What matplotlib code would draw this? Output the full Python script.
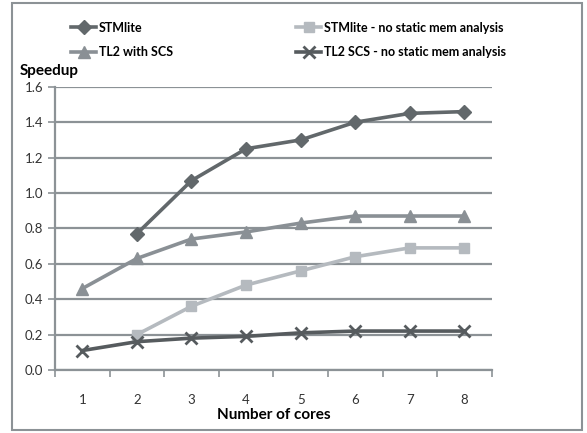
import matplotlib.pyplot as plt
from matplotlib.patches import Rectangle

cores = [1, 2, 3, 4, 5, 6, 7, 8]

stmlite_cores = [2, 3, 4, 5, 6, 7, 8]
stmlite = [0.77, 1.07, 1.25, 1.30, 1.40, 1.45, 1.46]

stmlite_nostatic_cores = [2, 3, 4, 5, 6, 7, 8]
stmlite_nostatic = [0.20, 0.36, 0.48, 0.56, 0.64, 0.69, 0.69]

tl2_scs = [0.46, 0.63, 0.74, 0.78, 0.83, 0.87, 0.87, 0.87]
tl2_nostatic = [0.11, 0.16, 0.18, 0.19, 0.21, 0.22, 0.22, 0.22]

plt.rcParams['font.family'] = ['Lato', 'DejaVu Sans']

fig = plt.figure(figsize=(5.87, 4.33), dpi=100)
ax = fig.add_axes([0.0937, 0.1455, 0.744, 0.654])

grid_c = '#8c9296'
p1, = ax.plot(stmlite_cores, stmlite, color='#62686b', lw=2.6, marker='D', ms=7,
              label='STMlite')
p2, = ax.plot(stmlite_nostatic_cores, stmlite_nostatic, color='#b5babf', lw=2.6,
              marker='s', ms=7, label='STMlite - no static mem analysis')
p3, = ax.plot(cores, tl2_scs, color='#8a9095', lw=2.6, marker='^', ms=8,
              label='TL2 with SCS')
p4, = ax.plot(cores, tl2_nostatic, color='#565b5e', lw=2.6, marker='x', ms=8,
              mew=2, label='TL2 SCS - no static mem analysis')

ax.set_xlim(0.5, 8.5)
ax.set_ylim(0, 1.6)
ax.set_yticks([0.0, 0.2, 0.4, 0.6, 0.8, 1.0, 1.2, 1.4, 1.6])
ax.set_yticklabels(['%.1f' % v for v in ax.get_yticks()], fontsize=9.5, color='#333333')
ax.yaxis.grid(True, color=grid_c, lw=1.6)
ax.set_axisbelow(True)

# category labels sit between the tick marks
ax.set_xticks([i + 0.5 for i in range(0, 9)])
ax.set_xticklabels([])
ax.set_xticks(cores, minor=True)
ax.set_xticklabels([str(c) for c in cores], minor=True, fontsize=9.5, color='#333333')
ax.tick_params(axis='x', which='minor', length=0, pad=17)
ax.tick_params(axis='x', which='major', length=5, color=grid_c, width=1.2)
ax.tick_params(axis='y', length=5, color=grid_c, width=1.2)

for s in ['top', 'right']:
    ax.spines[s].set_visible(False)
for s in ['left', 'bottom']:
    ax.spines[s].set_color(grid_c)
    ax.spines[s].set_linewidth(1.6)

ax.set_xlabel('Number of cores', fontsize=11, fontweight='bold', labelpad=2)
fig.text(0.034, 0.826, 'Speedup', fontsize=11, fontweight='bold')

fig.legend(handles=[p1, p3, p2, p4], ncol=2, loc='upper left',
           bbox_to_anchor=(0.102, 0.976), frameon=False,
           prop={'weight': 'bold', 'size': 9}, handlelength=2.0,
           columnspacing=9.9, labelspacing=1.0, handletextpad=0.2)

fig.patches.append(Rectangle((0.02, 0.007), 0.971, 0.985, transform=fig.transFigure,
                             fill=False, edgecolor='#8c9296', lw=1.5))

fig.savefig('out.png', dpi=100)
